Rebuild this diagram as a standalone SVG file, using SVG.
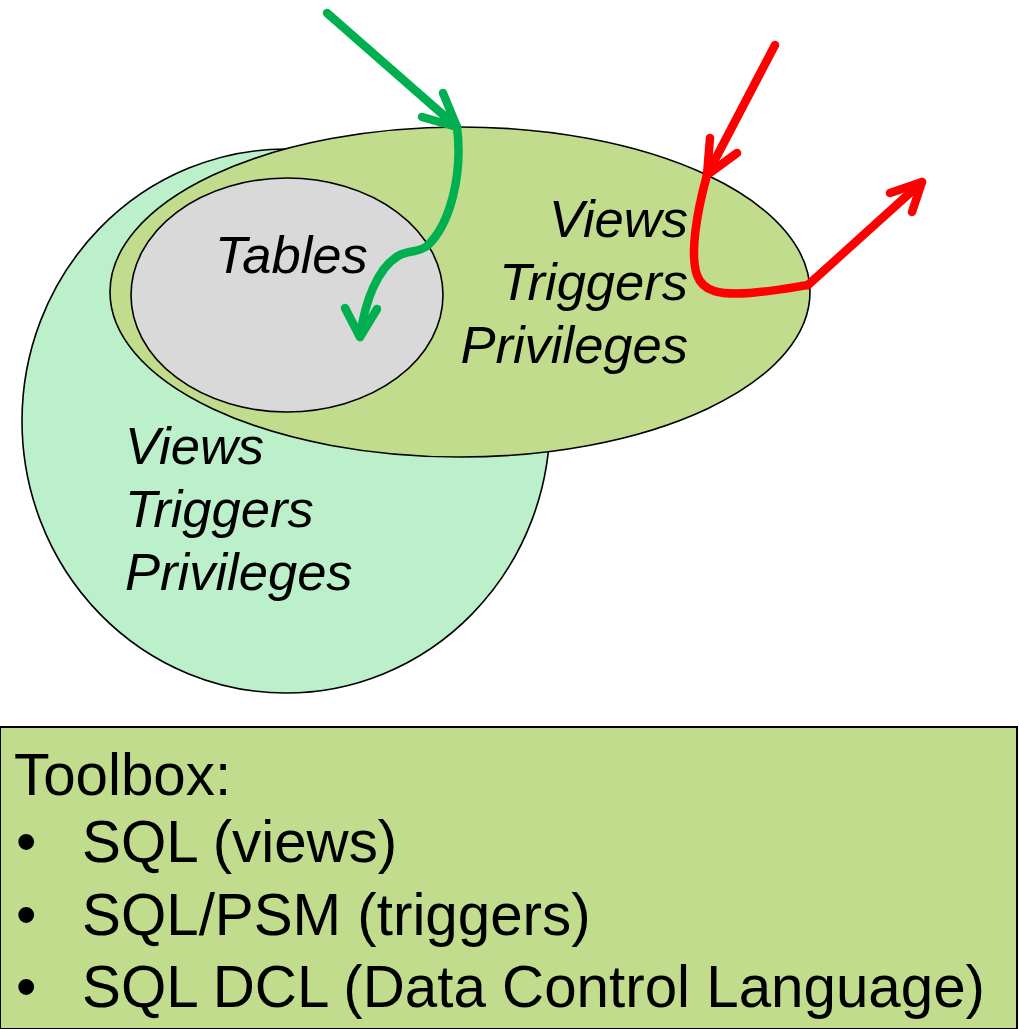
<svg xmlns="http://www.w3.org/2000/svg" width="1019" height="1029" viewBox="0 0 1019 1029">
<style>
.shape{stroke:#000;stroke-width:1.6}
.lbl{font-family:"Liberation Sans",Arial,sans-serif;font-style:italic;font-size:52.5px;fill:#000}
.tb{font-family:"Liberation Sans",Arial,sans-serif;font-size:58.3px;fill:#000}
.g{fill:none;stroke:#00b050;stroke-width:8.5;stroke-linecap:round;stroke-linejoin:round}
.r{fill:none;stroke:#ff0000;stroke-width:8.5;stroke-linecap:round;stroke-linejoin:round}
</style>
<rect width="1019" height="1029" fill="#fff"/>
<g id="outer-circle">
<ellipse class="shape" cx="286" cy="421" rx="264" ry="272" fill="#bbf0cb"/>
<text class="lbl" x="125" y="464">Views</text>
<text class="lbl" x="125" y="527">Triggers</text>
<text class="lbl" x="125" y="590">Privileges</text>
</g>
<g id="views-ellipse">
<ellipse class="shape" cx="460" cy="292" rx="350" ry="165" fill="#c0dc8c"/>
<text class="lbl" x="688" y="237" text-anchor="end">Views</text>
<text class="lbl" x="688" y="300" text-anchor="end">Triggers</text>
<text class="lbl" x="688" y="363" text-anchor="end">Privileges</text>
</g>
<g id="tables">
<ellipse class="shape" cx="287" cy="295" rx="156" ry="117" fill="#d9d9d9"/>
<text class="lbl" x="215" y="273">Tables</text>
</g>
<g id="connectors">
<path class="g" d="M327,13 L457,127"/>
<path class="g" d="M443,93 L457,127 L422,117"/>
<path class="g" d="M457,127 C463,175 450,225 427,246 C418,253 408,250 398,256 C378,268 365,300 360,337"/>
<path class="g" d="M345,308 L360,337 L377,309"/>
<path class="r" d="M775,45 L707,175"/>
<path class="r" d="M710,138 L707,175 L737,153"/>
<path class="r" d="M707,175 C696,215 690,255 697,275 C703,292 720,295 750,293 C775,291 795,287 808,285"/>
<path class="r" d="M808,285 L922,182"/>
<path class="r" d="M890,193 L922,182 L912,212"/>
</g>
<g id="toolbox">
<rect x="0" y="727" width="1017" height="302" fill="#c0dc8c" stroke="#000" stroke-width="2"/>
<text class="tb" x="14" y="795">Toolbox:</text>
<text class="tb" x="16" y="862">•</text>
<text class="tb" x="82" y="862">SQL (views)</text>
<text class="tb" x="16" y="935">•</text>
<text class="tb" x="82" y="935">SQL/PSM (triggers)</text>
<text class="tb" x="16" y="1007">•</text>
<text class="tb" x="82" y="1007">SQL DCL (Data Control Language)</text>
</g>
</svg>
